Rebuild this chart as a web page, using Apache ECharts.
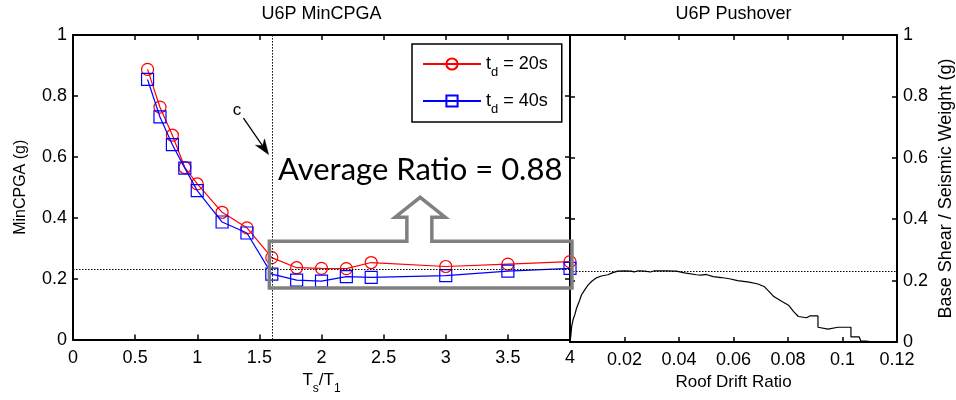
<!DOCTYPE html>
<html>
<head>
<meta charset="utf-8">
<script src="https://cdn.jsdelivr.net/npm/echarts@6/dist/echarts.min.js"></script>
<style>
  html, body { margin: 0; padding: 0; background: #fff; }
  #chart { width: 956px; height: 400px; }
</style>
</head>
<body>
<div id="chart"></div>
<script>
// Period ratio Ts/T1 at which the minimum collapse PGA was evaluated
const periodRatio = [0.6, 0.7, 0.8, 0.9, 1.0, 1.2, 1.4, 1.6, 1.8, 2.0, 2.2, 2.4, 3.0, 3.5, 4.0];
// MinCPGA (g) for two ground-motion durations
const minPgaTd20 = [0.887, 0.763, 0.671, 0.565, 0.511, 0.418, 0.367, 0.269, 0.236, 0.234, 0.233, 0.253, 0.240, 0.248, 0.256];
const minPgaTd40 = [0.854, 0.731, 0.640, 0.563, 0.489, 0.386, 0.350, 0.215, 0.195, 0.192, 0.207, 0.204, 0.210, 0.225, 0.234];

// Pushover curve: roof drift ratio vs base shear / seismic weight (g)
const roofDrift = [0, 0.0003, 0.0006, 0.0012, 0.0018, 0.0024, 0.0033, 0.0042, 0.0054, 0.0066, 0.008, 0.0097,
  0.0115, 0.0139, 0.0155, 0.0175, 0.020, 0.0225, 0.0235, 0.025, 0.0275, 0.0295, 0.031, 0.035, 0.039, 0.042,
  0.0464, 0.048, 0.050, 0.0525, 0.0555, 0.0585, 0.0615, 0.0657, 0.069, 0.0712, 0.073, 0.0748, 0.0778, 0.0802,
  0.082, 0.0838, 0.0868, 0.088, 0.091, 0.091, 0.0947, 0.0983, 0.1031, 0.1031, 0.1061, 0.1067, 0.1097];
const baseShear = [0, 0.02, 0.05, 0.075, 0.09, 0.11, 0.13, 0.153, 0.17, 0.185, 0.198, 0.209,
  0.215, 0.219, 0.225, 0.231, 0.232, 0.231, 0.228, 0.232, 0.231, 0.228, 0.232, 0.232, 0.231, 0.225,
  0.219, 0.218, 0.220, 0.213, 0.210, 0.206, 0.200, 0.195, 0.189, 0.181, 0.165, 0.148, 0.132, 0.120,
  0.100, 0.083, 0.079, 0.085, 0.085, 0.048, 0.042, 0.048, 0.048, 0.017, 0.017, 0.004, 0.002];

// Reference levels
const capacityLevel = 0.235;   // pushover capacity (g)
const cutoffRatio = 1.6;       // point "c"
const averageRatioText = 'Average Ratio = 0.88';

const FONT = 'Liberation Sans';
const zip = (xs, ys) => xs.map((x, i) => [x, ys[i]]);

const axisLine = { show: true, onZero: false, lineStyle: { color: '#000', width: 2 } };
const axisTick = { show: true, inside: true, length: 5, lineStyle: { color: '#000', width: 1.5 } };
const tickLabel = { fontSize: 18, color: '#000', fontFamily: FONT };
const subRich = {
  m: { fontSize: 17, fontFamily: FONT, color: '#000', lineHeight: 30 },
  s: { fontSize: 12, fontFamily: FONT, color: '#000', lineHeight: 12, verticalAlign: 'bottom' }
};
const legendRich = {
  m: { fontSize: 18, fontFamily: FONT, color: '#000', lineHeight: 30 },
  s: { fontSize: 13, fontFamily: FONT, color: '#000', lineHeight: 12, verticalAlign: 'bottom' }
};

const dotted = { type: [1.5, 1.5], color: '#000', width: 1 };

const chart = echarts.init(document.getElementById('chart'), null, { renderer: 'canvas' });

chart.setOption({
  animation: false,
  backgroundColor: '#fff',
  textStyle: { fontFamily: FONT },
  grid: [
    { left: 73, top: 35, width: 497, height: 307 },
    { left: 570, top: 35, width: 332, height: 307 }
  ],
  xAxis: [
    {
      gridIndex: 0, type: 'value', position: 'bottom', min: 0, max: 4, interval: 0.5,
      axisLine, axisTick, splitLine: { show: false },
      axisLabel: Object.assign({ margin: 9 }, tickLabel),
      name: '{m|T}{s|s}{m|/T}{s|1}', nameLocation: 'middle', nameGap: 24,
      nameTextStyle: { rich: subRich }
    },
    {
      gridIndex: 0, type: 'value', position: 'top', min: 0, max: 4, interval: 0.5,
      axisLine, axisTick, splitLine: { show: false }, axisLabel: { show: false }
    },
    {
      gridIndex: 1, type: 'value', position: 'bottom', min: 0, max: 0.12, interval: 0.02,
      axisLine, axisTick, splitLine: { show: false },
      axisLabel: Object.assign({ margin: 9, formatter: v => (v === 0 ? '' : String(+v.toFixed(2))) }, tickLabel),
      name: 'Roof Drift Ratio', nameLocation: 'middle', nameGap: 32,
      nameTextStyle: { fontSize: 17, fontFamily: FONT, color: '#000' }
    },
    {
      gridIndex: 1, type: 'value', position: 'top', min: 0, max: 0.12, interval: 0.02,
      axisLine, axisTick, splitLine: { show: false }, axisLabel: { show: false }
    }
  ],
  yAxis: [
    {
      gridIndex: 0, type: 'value', position: 'left', min: 0, max: 1, interval: 0.2,
      axisLine, axisTick, splitLine: { show: false },
      axisLabel: Object.assign({ margin: 6 }, tickLabel),
      name: 'MinCPGA (g)', nameLocation: 'middle', nameGap: 44, nameRotate: 90,
      nameTextStyle: { fontSize: 16, fontFamily: FONT, color: '#000' }
    },
    {
      gridIndex: 0, type: 'value', position: 'right', min: 0, max: 1, interval: 0.2,
      axisLine, axisTick, splitLine: { show: false }, axisLabel: { show: false }
    },
    {
      gridIndex: 1, type: 'value', position: 'right', min: 0, max: 1, interval: 0.2,
      axisLine, axisTick, splitLine: { show: false },
      axisLabel: Object.assign({ margin: 6 }, tickLabel),
      name: 'Base Shear / Seismic Weight (g)', nameLocation: 'middle', nameGap: 40, nameRotate: 90,
      nameTextStyle: { fontSize: 18, fontFamily: FONT, color: '#000' }
    },
    {
      gridIndex: 1, type: 'value', position: 'left', min: 0, max: 1, interval: 0.2,
      axisLine, axisTick, splitLine: { show: false }, axisLabel: { show: false }
    }
  ],
  legend: {
    data: ['td20', 'td40'],
    orient: 'vertical', left: 412, top: 44,
    padding: [11, 14, 6, 10], itemGap: 13, itemWidth: 58, itemHeight: 14,
    borderColor: '#000', borderWidth: 1.5, backgroundColor: '#fff',
    formatter: n => (n === 'td20' ? '{m|t}{s|d}{m| = 20s}' : '{m|t}{s|d}{m| = 40s}'),
    textStyle: { rich: legendRich }
  },
  series: [
    {
      name: 'td20', type: 'line', xAxisIndex: 0, yAxisIndex: 0,
      data: zip(periodRatio, minPgaTd20),
      symbol: 'circle', symbolSize: 12,
      lineStyle: { color: '#ff0000', width: 1.2 },
      itemStyle: { color: 'rgba(255,255,255,0)', borderColor: '#ff0000', borderWidth: 1.2 },
      markLine: {
        silent: true, symbol: 'none', label: { show: false },
        lineStyle: dotted,
        data: [{ xAxis: cutoffRatio }, { yAxis: capacityLevel }]
      },
      z: 3
    },
    {
      name: 'td40', type: 'line', xAxisIndex: 0, yAxisIndex: 0,
      data: zip(periodRatio, minPgaTd40),
      symbol: 'rect', symbolSize: 12,
      lineStyle: { color: '#0000ff', width: 1.2 },
      itemStyle: { color: 'rgba(255,255,255,0)', borderColor: '#0000ff', borderWidth: 1.2 },
      z: 4
    },
    {
      name: 'pushover', type: 'line', xAxisIndex: 2, yAxisIndex: 2,
      data: zip(roofDrift, baseShear),
      symbol: 'none', showSymbol: false,
      lineStyle: { color: '#000', width: 1.2 },
      markLine: {
        silent: true, symbol: 'none', label: { show: false },
        lineStyle: dotted,
        data: [{ yAxis: capacityLevel }]
      }
    }
  ]
});

// Annotations anchored in the MinCPGA panel's data space
const P = (x, y) => chart.convertToPixel({ gridIndex: 0 }, [x, y]);
const Q = (x, y) => chart.convertToPixel({ gridIndex: 1 }, [x, y]);

// Gray outline around the long-period points with an upward block arrow
const outline = [
  [1.58, 0.323], [2.687, 0.323], [2.687, 0.402], [2.593, 0.402], [2.794, 0.467],
  [2.995, 0.402], [2.888, 0.402], [2.888, 0.323], [4.016, 0.323], [4.016, 0.169], [1.58, 0.169]
].map(p => P(p[0], p[1]));

const cText = P(1.319, 0.754);
const cFrom = P(1.372, 0.727);
const cTip = P(1.574, 0.608);
const dx = cTip[0] - cFrom[0], dy = cTip[1] - cFrom[1];
const len = Math.hypot(dx, dy), ux = dx / len, uy = dy / len;
const headLen = 15, headHalf = 5.5;
const hb = [cTip[0] - ux * headLen, cTip[1] - uy * headLen];
const hn = [cTip[0] - ux * headLen * 0.7, cTip[1] - uy * headLen * 0.7];
const head = [
  cTip,
  [hb[0] - uy * headHalf, hb[1] + ux * headHalf],
  hn,
  [hb[0] + uy * headHalf, hb[1] - ux * headHalf]
];

const avgPos = P(2.794, 0.557);
const leftTitle = [(P(0, 0)[0] + P(4, 0)[0]) / 2, 14];
const rightTitle = [(Q(0, 0)[0] + Q(0.12, 0)[0]) / 2, 14];

chart.setOption({
  graphic: [
    {
      type: 'polygon', z: 20, silent: true,
      shape: { points: outline },
      style: { fill: 'none', stroke: '#808080', lineWidth: 3.5, lineJoin: 'miter' }
    },
    {
      type: 'text', z: 20, silent: true, x: avgPos[0], y: avgPos[1],
      style: { text: averageRatioText, fontSize: 31, fontFamily: 'Lato', fill: '#000', align: 'center', verticalAlign: 'middle' }
    },
    {
      type: 'line', z: 20, silent: true,
      shape: { x1: cFrom[0], y1: cFrom[1], x2: hn[0], y2: hn[1] },
      style: { stroke: '#000', lineWidth: 1.3 }
    },
    {
      type: 'polygon', z: 20, silent: true,
      shape: { points: head },
      style: { fill: '#000', stroke: '#000', lineWidth: 0.5 }
    },
    {
      type: 'text', z: 20, silent: true, x: cText[0], y: cText[1],
      style: { text: 'c', fontSize: 17, fontFamily: FONT, fill: '#000', align: 'center', verticalAlign: 'middle' }
    },
    {
      type: 'text', z: 20, silent: true, x: leftTitle[0], y: leftTitle[1],
      style: { text: 'U6P MinCPGA', fontSize: 18, fontFamily: FONT, fill: '#000', align: 'center', verticalAlign: 'middle' }
    },
    {
      type: 'text', z: 20, silent: true, x: rightTitle[0], y: rightTitle[1],
      style: { text: 'U6P Pushover', fontSize: 18, fontFamily: FONT, fill: '#000', align: 'center', verticalAlign: 'middle' }
    }
  ]
});
</script>
</body>
</html>
